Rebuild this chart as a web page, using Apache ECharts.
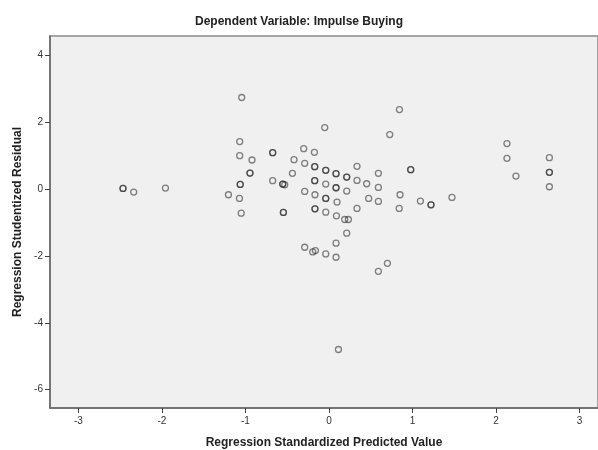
<!DOCTYPE html>
<html>
<head>
<meta charset="utf-8">
<script src="https://cdn.jsdelivr.net/npm/echarts@6/dist/echarts.min.js"></script>
<style>html,body{margin:0;padding:0;background:#fff}#c{width:598px;height:450px}</style>
</head>
<body>
<div id="c"></div>
<script>
// Regression standardized predicted value (x) and studentized residual (y)
const predicted = [
  -2.466, -2.466, -2.338, -1.958, -1.069, -1.069, -0.922, -0.674, -0.674, -0.946,
  -0.946, -1.063, -1.063, -1.204, -1.072, -1.051, -0.674, -0.554, -0.554, -0.530,
  -0.546, -0.546, -0.051, 0.727, -0.303, -0.175, -0.419, -0.291, -0.171, -0.171,
  -0.039, -0.039, 0.084, 0.084, 0.212, 0.212, 0.335, 0.591, -0.438, -0.171,
  -0.171, -0.039, 0.084, 0.084, 0.212, 0.335, 0.451, 0.591, -0.291, -0.168,
  -0.039, -0.039, 0.096, 0.475, 0.591, 0.850, 0.840, -0.168, -0.168, -0.039,
  0.089, 0.335, 0.188, 0.232, 0.212, 0.084, -0.291, -0.195, -0.163, -0.039,
  0.084, 0.699, 0.591, 0.113, 0.843, -1.045, 0.978, 0.978, 1.094, 1.221,
  1.221, 1.472, 2.130, 2.130, 2.238, 2.638, 2.638, 2.638, 2.638
];
const residual = [
  0.02, 0.02, -0.09, 0.03, 1.42, 1.00, 0.87, 1.09, 1.09, 0.48,
  0.48, 0.14, 0.14, -0.17, -0.28, -0.72, 0.25, 0.15, 0.15, 0.13,
  -0.70, -0.70, 1.84, 1.63, 1.21, 1.10, 0.88, 0.77, 0.67, 0.67,
  0.56, 0.56, 0.46, 0.46, 0.36, 0.36, 0.68, 0.47, 0.47, 0.25,
  0.25, 0.15, 0.04, 0.04, -0.06, 0.26, 0.16, 0.05, -0.07, -0.17,
  -0.28, -0.28, -0.39, -0.28, -0.37, -0.17, -0.58, -0.59, -0.59, -0.69,
  -0.80, -0.58, -0.91, -0.91, -1.32, -1.62, -1.74, -1.88, -1.84, -1.94,
  -2.04, -2.22, -2.46, -4.80, 2.38, 2.74, 0.58, 0.58, -0.36, -0.47,
  -0.47, -0.25, 1.36, 0.92, 0.39, 0.94, 0.50, 0.50, 0.07
];
const xTicks = [-3, -2, -1, 0, 1, 2, 3];
const yTicks = [-6, -4, -2, 0, 2, 4];

const points = predicted.map((x, i) => [x, residual[i]]);
const font = '"Liberation Sans", Arial, sans-serif';

const chart = echarts.init(document.getElementById('c'), null, {renderer: 'canvas'});
chart.setOption({
  animation: false,
  backgroundColor: '#ffffff',
  title: {
    text: 'Dependent Variable: Impulse Buying',
    left: 'center',
    top: 11,
    textStyle: {fontFamily: font, fontSize: 12, fontWeight: 'bold', color: '#222'}
  },
  grid: {
    left: 50, right: 0, top: 36, bottom: 42,
    outerBoundsMode: 'none', containLabel: false,
    show: true, backgroundColor: '#f0f0f0', borderColor: '#8a8a8a', borderWidth: 1.5
  },
  xAxis: {
    type: 'value', min: -3.34, max: 3.22,
    name: 'Regression Standardized Predicted Value',
    nameLocation: 'middle', nameGap: 29,
    nameTextStyle: {fontFamily: font, fontSize: 12, fontWeight: 'bold', color: '#222'},
    axisLine: {show: true, onZero: false, lineStyle: {color: '#666', width: 1.5}},
    axisTick: {show: true, inside: false, length: 5, customValues: xTicks, lineStyle: {color: '#444'}},
    axisLabel: {customValues: xTicks, inside: false, fontFamily: font, fontSize: 10, color: '#333', margin: 8},
    splitLine: {show: false}
  },
  yAxis: {
    type: 'value', min: -6.55, max: 4.58,
    name: 'Regression Studentized Residual',
    nameLocation: 'middle', nameGap: 26, nameRotate: 90,
    nameTextStyle: {fontFamily: font, fontSize: 12, fontWeight: 'bold', color: '#222'},
    axisLine: {show: true, onZero: false, lineStyle: {color: '#666', width: 1.5}},
    axisTick: {show: true, inside: false, length: 5, customValues: yTicks, lineStyle: {color: '#444'}},
    axisLabel: {customValues: yTicks, inside: false, fontFamily: font, fontSize: 10, color: '#333', margin: 7},
    splitLine: {show: false}
  },
  series: [{
    type: 'scatter',
    data: points,
    symbol: 'circle',
    symbolSize: 6,
    itemStyle: {color: 'rgba(0,0,0,0)', borderColor: 'rgba(30,30,30,0.68)', borderWidth: 1.3}
  }]
});
</script>
</body>
</html>
